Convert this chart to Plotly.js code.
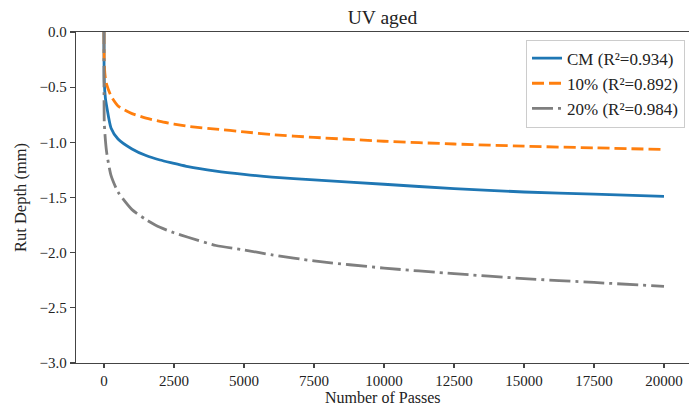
<!DOCTYPE html>
<html>
<head>
<meta charset="utf-8">
<script src="https://cdn.plot.ly/plotly-3.0.1.min.js"></script>
<style>
html,body{margin:0;padding:0;background:#fff;}
#chart{width:689px;height:407px;}
</style>
</head>
<body>
<div id="chart"></div>
<script>
// Number of passes (x) sampled along the fitted curves
const passes = [0, 10, 50, 100, 250, 500, 1000, 1500, 2000, 2500, 3000, 4000, 5000, 6000, 7500, 10000, 12500, 15000, 17500, 20000];
// Rut depth (mm)
const cmDepth  = [0, -0.45, -0.60, -0.68, -0.87, -0.97, -1.06, -1.12, -1.16, -1.19, -1.22, -1.26, -1.29, -1.315, -1.34, -1.38, -1.42, -1.45, -1.47, -1.49];
const p10Depth = [0, -0.30, -0.42, -0.48, -0.58, -0.67, -0.74, -0.78, -0.81, -0.834, -0.855, -0.88, -0.905, -0.93, -0.955, -0.99, -1.015, -1.035, -1.05, -1.065];
const p20Depth = [0, -0.82, -0.98, -1.10, -1.30, -1.45, -1.61, -1.70, -1.77, -1.82, -1.86, -1.935, -1.975, -2.02, -2.075, -2.14, -2.19, -2.235, -2.27, -2.305];
const seriesNames = ["CM (R²=0.934)", "10% (R²=0.892)", "20% (R²=0.984)"];
const xTicks = [0, 2500, 5000, 7500, 10000, 12500, 15000, 17500, 20000];
const yTicks = [0, -0.5, -1.0, -1.5, -2.0, -2.5, -3.0];
const xTitle = "Number of Passes";

const font = "Liberation Serif, Times New Roman, serif";

const traces = [
  {x: passes, y: cmDepth, name: seriesNames[0], mode: "lines",
   line: {color: "#1f77b4", width: 2.8, shape: "spline", smoothing: 0.6}},
  {x: passes, y: p10Depth, name: seriesNames[1], mode: "lines",
   line: {color: "#ff7f0e", width: 2.8, dash: "12px,5px", shape: "spline", smoothing: 0.6}},
  {x: passes, y: p20Depth, name: seriesNames[2], mode: "lines",
   line: {color: "#7f7f7f", width: 2.8, dash: "21px,5px,3px,5px", shape: "spline", smoothing: 0.6}}
];

const layout = {
  width: 689, height: 407,
  paper_bgcolor: "#fff", plot_bgcolor: "#fff",
  margin: {l: 76, r: 0, t: 32, b: 44},
  font: {family: font, size: 15, color: "#222"},
  title: {text: "UV aged", font: {family: font, size: 19.5, color: "#222"},
          x: 0.5, xref: "paper", xanchor: "center", y: 0.958, yref: "container", yanchor: "middle"},
  showlegend: true,
  legend: {x: 0.9935, y: 0.977, xanchor: "right", yanchor: "top",
           bgcolor: "rgba(255,255,255,0.8)", bordercolor: "#cccccc", borderwidth: 1,
           font: {family: font, size: 17, color: "#222"}, tracegroupgap: 0},
  xaxis: {
    range: [-1000, 20893], tickvals: xTicks, tickformat: "d",
    showgrid: false, zeroline: false, automargin: false,
    showline: true, linecolor: "#444", linewidth: 1.2, mirror: true,
    ticks: "outside", ticklen: 4, tickcolor: "#444", tickwidth: 1.2,
    tickfont: {family: font, size: 15, color: "#222"}
  },
  yaxis: {
    range: [-3.0, 0.0], tickvals: yTicks, tickformat: ".1f",
    showgrid: false, zeroline: false, automargin: false,
    showline: true, linecolor: "#444", linewidth: 1.2, mirror: false,
    ticks: "outside", ticklen: 5, tickcolor: "#444", tickwidth: 1.2,
    tickfont: {family: font, size: 15, color: "#222"},
    title: {text: "Rut Depth (mm)", font: {family: font, size: 16.5, color: "#222"}, standoff: 8}
  },
  annotations: [{
    text: xTitle, xref: "paper", yref: "paper", x: 0.5, y: 0,
    xanchor: "center", yanchor: "middle", yshift: -34, borderpad: 0, showarrow: false,
    font: {family: font, size: 16, color: "#222"}
  }]
};

Plotly.newPlot("chart", traces, layout, {staticPlot: true, displayModeBar: false});
</script>
</body>
</html>
